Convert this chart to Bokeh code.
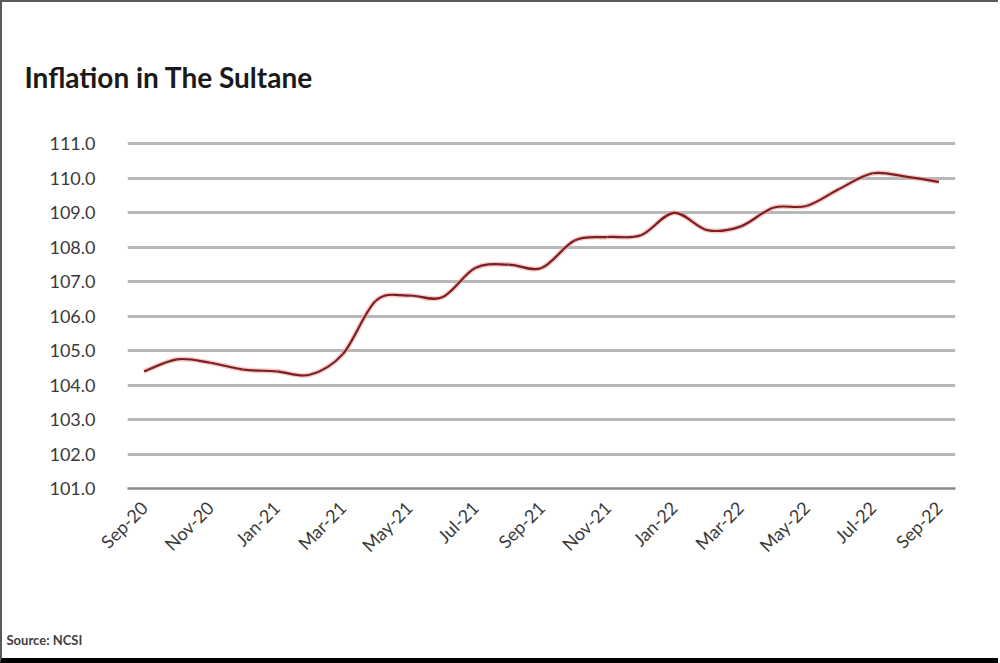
import math
from bokeh.plotting import figure
from bokeh.models import Range1d, FixedTicker, Title, ColumnDataSource
from bokeh.embed import file_html
from bokeh.resources import INLINE

# ---- data ----
months = ["Sep-20", "Oct-20", "Nov-20", "Dec-20", "Jan-21", "Feb-21", "Mar-21",
          "Apr-21", "May-21", "Jun-21", "Jul-21", "Aug-21", "Sep-21", "Oct-21",
          "Nov-21", "Dec-21", "Jan-22", "Feb-22", "Mar-22", "Apr-22", "May-22",
          "Jun-22", "Jul-22", "Aug-22", "Sep-22"]
cpi = [104.4, 104.75, 104.65, 104.45, 104.4, 104.3, 104.9,
       106.45, 106.6, 106.55, 107.4, 107.5, 107.4, 108.2,
       108.3, 108.35, 109.0, 108.5, 108.6, 109.15, 109.2,
       109.7, 110.15, 110.05, 109.9]
y_ticks = [101.0, 102.0, 103.0, 104.0, 105.0, 106.0, 107.0, 108.0, 109.0, 110.0, 111.0]
title_text = "Inflation in The Sultane"
source_text = "Source: NCSI"

xs = list(range(len(months)))

# smooth curve segments (Catmull-Rom -> cubic Bezier), from the data points
def ctrl(i):
    n = len(cpi)
    p0 = (xs[max(i - 1, 0)], cpi[max(i - 1, 0)])
    p1 = (xs[i], cpi[i])
    p2 = (xs[i + 1], cpi[i + 1])
    p3 = (xs[min(i + 2, n - 1)], cpi[min(i + 2, n - 1)])
    c0 = (p1[0] + (p2[0] - p0[0]) / 6, p1[1] + (p2[1] - p0[1]) / 6)
    c1 = (p2[0] - (p3[0] - p1[0]) / 6, p2[1] - (p3[1] - p1[1]) / 6)
    return p1, c0, c1, p2

segs = [ctrl(i) for i in range(len(cpi) - 1)]
src = ColumnDataSource(dict(
    x0=[s[0][0] for s in segs], y0=[s[0][1] for s in segs],
    cx0=[s[1][0] for s in segs], cy0=[s[1][1] for s in segs],
    cx1=[s[2][0] for s in segs], cy1=[s[2][1] for s in segs],
    x1=[s[3][0] for s in segs], y1=[s[3][1] for s in segs],
))

FONT = "Lato"

p = figure(width=998, height=663, output_backend="svg", toolbar_location=None,
           x_range=Range1d(-0.5, len(months) - 0.5),
           y_range=Range1d(101.0, 111.1),
           min_border_left=125, min_border_right=45,
           min_border_top=138, min_border_bottom=177)
p.styles = {"border-left": "2px solid #5a5a5a", "border-top": "2px solid #5a5a5a",
            "border-bottom": "5px solid #000000"}
p.outline_line_color = None
p.background_fill_color = "white"
p.border_fill_color = "white"

# title
t = Title(text=title_text, align="left", text_font=FONT, text_font_size="28px",
          text_font_style="bold", text_color="#1a1a1a", offset=-103, standoff=93)
p.add_layout(t, "above")

# source note
s = Title(text=source_text, align="left", text_font=FONT, text_font_size="13px",
          text_font_style="bold", text_color="#404040", offset=-121, standoff=10)
p.add_layout(s, "below")

# axes
p.yaxis.ticker = FixedTicker(ticks=y_ticks)
p.yaxis.major_label_overrides = {v: f"{v:.1f}" for v in y_ticks}
p.yaxis.axis_line_color = None
p.yaxis.major_tick_line_color = None
p.yaxis.minor_tick_line_color = None
p.yaxis.major_label_standoff = 26
p.yaxis.major_label_text_font = FONT
p.yaxis.major_label_text_font_size = "18px"
p.yaxis.major_label_text_color = "#3a3a3a"

shown = list(range(0, len(months), 2))
p.xaxis.ticker = FixedTicker(ticks=shown)
p.xaxis.major_label_overrides = {i: months[i] for i in shown}
p.xaxis.major_label_orientation = math.pi / 4
p.xaxis.axis_line_color = "#8a8a8a"
p.xaxis.axis_line_width = 2.5
p.xaxis.major_tick_line_color = None
p.xaxis.minor_tick_line_color = None
p.xaxis.major_label_standoff = 10
p.xaxis.major_label_text_font = FONT
p.xaxis.major_label_text_font_size = "18px"
p.xaxis.major_label_text_color = "#3a3a3a"
# spacer between the axis labels and the source note
p.xaxis.axis_label = " "
p.xaxis.axis_label_text_font_size = "1px"
p.xaxis.axis_label_standoff = 53

p.xgrid.grid_line_color = None
p.ygrid.ticker = FixedTicker(ticks=y_ticks)
p.ygrid.grid_line_color = "#b8b8b8"
p.ygrid.grid_line_width = 3

# line with faint halo
p.bezier(x0="x0", y0="y0", x1="x1", y1="y1", cx0="cx0", cy0="cy0", cx1="cx1", cy1="cy1",
         source=src, line_color="#e9a8a8", line_width=5, line_alpha=0.6)
p.bezier(x0="x0", y0="y0", x1="x1", y1="y1", cx0="cx0", cy0="cy0", cx1="cx1", cy1="cy1",
         source=src, line_color="#7e1e1e", line_width=2.2)

open("out.html", "w").write(file_html(p, INLINE))
